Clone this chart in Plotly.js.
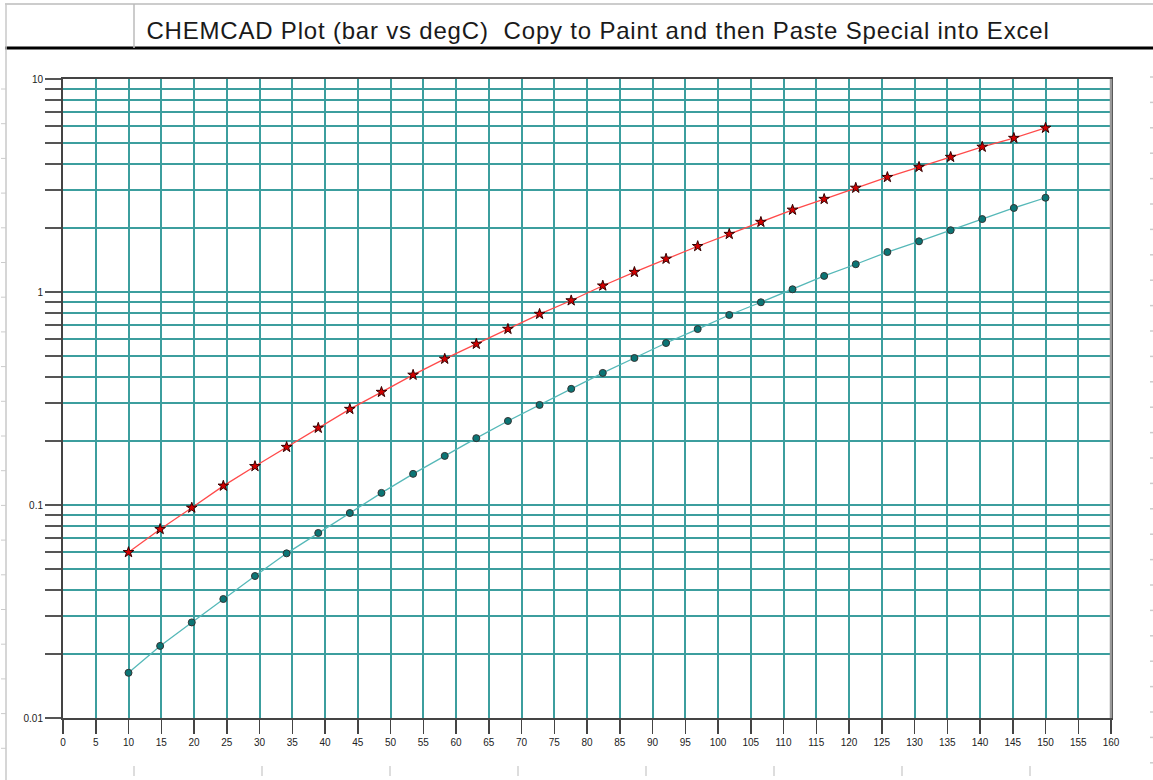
<!DOCTYPE html>
<html>
<head>
<meta charset="utf-8">
<script src="https://cdn.plot.ly/plotly-3.0.1.min.js"></script>
<style>
html,body{margin:0;padding:0;background:#fff;}
#chart{width:1153px;height:780px;}
.gtitle{letter-spacing:0.8px;}
</style>
</head>
<body>
<div id="chart"></div>
<script>
// Temperatures (degC)
const temps = [10, 14.83, 19.66, 24.48, 29.31, 34.14, 38.97, 43.79, 48.62, 53.45,
  58.28, 63.1, 67.93, 72.76, 77.59, 82.41, 87.24, 92.07, 96.9, 101.72,
  106.55, 111.38, 116.21, 121.03, 125.86, 130.69, 135.52, 140.34, 145.17, 150];
// Upper series (bar), red stars
const pressRed = [0.060, 0.077, 0.097, 0.123, 0.152, 0.187, 0.230, 0.282, 0.339, 0.408,
  0.485, 0.570, 0.670, 0.788, 0.912, 1.07, 1.24, 1.43, 1.64, 1.87,
  2.13, 2.43, 2.73, 3.08, 3.46, 3.86, 4.30, 4.80, 5.28, 5.89];
// Lower series (bar), teal dots
const pressTeal = [0.0163, 0.0218, 0.0281, 0.0362, 0.0464, 0.0593, 0.0739, 0.0917, 0.114, 0.140,
  0.170, 0.206, 0.248, 0.295, 0.351, 0.417, 0.490, 0.576, 0.670, 0.780,
  0.895, 1.03, 1.19, 1.35, 1.54, 1.73, 1.95, 2.20, 2.48, 2.77];
// Axis ticks
const xTicks = [0,5,10,15,20,25,30,35,40,45,50,55,60,65,70,75,80,85,90,95,100,105,110,115,120,125,130,135,140,145,150,155,160];
const yTickVals = [0.01,0.02,0.03,0.04,0.05,0.06,0.07,0.08,0.09,
  0.1,0.2,0.3,0.4,0.5,0.6,0.7,0.8,0.9,
  1,2,3,4,5,6,7,8,9,10];
const yTickText = yTickVals.map(v => (v===0.01||v===0.1||v===1||v===10) ? String(v) : '');
const titleText = 'CHEMCAD Plot (bar vs degC)  Copy to Paint and then Paste Special into Excel';

// plot area geometry (pixels) for paper conversions of decorations
const L = 63, R = 1111, T = 79, B = 718;
const px = x => (x - L) / (R - L);
const py = y => (B - y) / (B - T);

const shapes = [];
// thick black rule under title
shapes.push({type:'line', xref:'paper', yref:'paper', x0:px(5), x1:px(1153), y0:py(48), y1:py(48), line:{color:'#000', width:3}});
// top thin gray line
shapes.push({type:'line', xref:'paper', yref:'paper', x0:px(5), x1:px(1153), y0:py(4), y1:py(4), line:{color:'#bbb', width:1.5}});
// vertical gray divider in title row
shapes.push({type:'line', xref:'paper', yref:'paper', x0:px(134), x1:px(134), y0:py(4), y1:py(48), line:{color:'#bbb', width:1.5}});
// left gray border
shapes.push({type:'line', xref:'paper', yref:'paper', x0:px(6), x1:px(6), y0:py(4), y1:py(780), line:{color:'#c8c8c8', width:1.5}});
// left small row ticks
for (let y = 89; y < 780; y += 34.7) {
  if (y > 52) shapes.push({type:'line', xref:'paper', yref:'paper', x0:px(1), x1:px(6), y0:py(y), y1:py(y), line:{color:'#ccc', width:1}});
}
// right small ticks
for (let y = 77; y < 780; y += 25.4) {
  shapes.push({type:'line', xref:'paper', yref:'paper', x0:px(1150), x1:px(1153), y0:py(y), y1:py(y), line:{color:'#ccc', width:1.5}});
}
// bottom small column ticks
for (let x = 134; x < 1153; x += 128) {
  shapes.push({type:'line', xref:'paper', yref:'paper', x0:px(x), x1:px(x), y0:py(766), y1:py(776), line:{color:'#bbb', width:1}});
}
// right plot border gray
shapes.push({type:'line', xref:'paper', yref:'paper', x0:1, x1:1, y0:0, y1:1, line:{color:'#999', width:2.5}});

const traces = [
  {x: temps, y: pressRed, type:'scatter', mode:'lines+markers',
   line:{color:'#ff4a4a', width:1.3},
   marker:{symbol:'star', size:8, color:'#d40000', line:{color:'#300', width:1}},
   hoverinfo:'x+y'},
  {x: temps, y: pressTeal, type:'scatter', mode:'lines+markers',
   line:{color:'#55b8b8', width:1.3},
   marker:{symbol:'circle', size:7, color:'#0b7575', line:{color:'#333', width:1}},
   hoverinfo:'x+y'}
];

const layout = {
  width:1153, height:780,
  margin:{l:L, r:1153-R, t:T, b:780-B, pad:0},
  paper_bgcolor:'#fff', plot_bgcolor:'#fff',
  showlegend:false,
  font:{family:'Arial, "Liberation Sans", sans-serif', color:'#222'},
  title:{text:titleText, x:598/1153, xanchor:'center', xref:'container',
         y:1-31/780, yanchor:'middle', yref:'container',
         font:{family:'Arial, "Liberation Sans", sans-serif', size:24, color:'#1a1a1a'}},
  xaxis:{range:[0,160], tickvals:xTicks, ticktext:xTicks.map(String),
         showgrid:true, gridcolor:'#3c9e9e', gridwidth:2,
         ticks:'outside', ticklen:14, tickwidth:1.5, tickcolor:'#444',
         showline:true, linecolor:'#444', linewidth:2, mirror:true,
         tickfont:{size:10, color:'#222'}, zeroline:false, fixedrange:true},
  yaxis:{type:'log', range:[-2,1], tickvals:yTickVals, ticktext:yTickText,
         showgrid:true, gridcolor:'#3c9e9e', gridwidth:2,
         ticks:'outside', ticklen:16, tickwidth:2, tickcolor:'#555',
         showline:true, linecolor:'#444', linewidth:2, mirror:true,
         tickfont:{size:10, color:'#222'}, zeroline:false, fixedrange:true},
  shapes: shapes
};

Plotly.newPlot('chart', traces, layout, {displayModeBar:false, staticPlot:true});
</script>
</body>
</html>
